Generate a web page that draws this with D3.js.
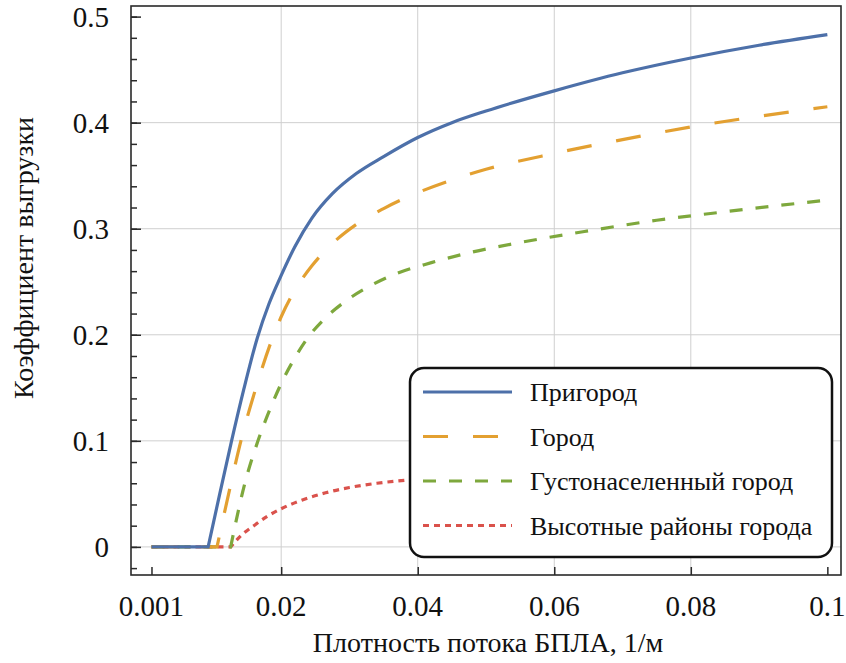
<!DOCTYPE html>
<html>
<head>
<meta charset="utf-8">
<script src="https://cdn.jsdelivr.net/npm/d3@7/dist/d3.min.js"></script>
<style>
  html, body { margin: 0; padding: 0; background: #fff; }
  svg { display: block; }
</style>
</head>
<body>
<svg id="chart" width="846" height="663"></svg>
<script>
// Unloading coefficient versus UAV flow density for four urban environments.
const seriesNames = ["Пригород", "Город", "Густонаселенный город", "Высотные районы города"];

const suburbX = [0.001, 0.0093, 0.0110, 0.0127, 0.0145, 0.0165, 0.0182, 0.0200, 0.0220, 0.0245, 0.0275, 0.0310, 0.0350, 0.0400, 0.0450, 0.0500, 0.0600, 0.0700, 0.0800, 0.0900, 0.1000];
const suburbY = [0, 0, 0.050, 0.099, 0.148, 0.197, 0.229, 0.256, 0.283, 0.310, 0.333, 0.352, 0.368, 0.386, 0.400, 0.411, 0.430, 0.447, 0.461, 0.473, 0.483];

const cityX = [0.001, 0.0106, 0.0123, 0.0141, 0.0164, 0.0185, 0.0200, 0.0220, 0.0245, 0.0275, 0.0310, 0.0350, 0.0400, 0.0450, 0.0500, 0.0600, 0.0700, 0.0800, 0.0900, 0.1000];
const cityY = [0, 0, 0.050, 0.100, 0.152, 0.193, 0.217, 0.242, 0.265, 0.286, 0.304, 0.319, 0.334, 0.346, 0.356, 0.371, 0.384, 0.396, 0.406, 0.415];

const denseX = [0.001, 0.0126, 0.0146, 0.0166, 0.0185, 0.0200, 0.0218, 0.0240, 0.0265, 0.0295, 0.0330, 0.0370, 0.0420, 0.0480, 0.0550, 0.0650, 0.0750, 0.0850, 0.1000];
const denseY = [0, 0, 0.058, 0.100, 0.132, 0.154, 0.176, 0.198, 0.216, 0.232, 0.246, 0.258, 0.268, 0.278, 0.287, 0.298, 0.308, 0.316, 0.327];

const highriseX = [0.001, 0.0126, 0.0140, 0.0160, 0.0180, 0.0200, 0.0230, 0.0265, 0.0300, 0.0340, 0.0384, 0.0450, 0.0550, 0.0700, 0.0850, 0.1000];
const highriseY = [0, 0, 0.010, 0.020, 0.029, 0.036, 0.044, 0.051, 0.056, 0.060, 0.063, 0.066, 0.069, 0.072, 0.074, 0.076];

const xTickValues = [0.001, 0.02, 0.04, 0.06, 0.08, 0.1];
const xTickLabels = ["0.001", "0.02", "0.04", "0.06", "0.08", "0.1"];
const yTickValues = [0, 0.1, 0.2, 0.3, 0.4, 0.5];
const yTickLabels = ["0", "0.1", "0.2", "0.3", "0.4", "0.5"];

const xLabel = "Плотность потока БПЛА, 1/м";
const yLabel = "Коэффициент выгрузки";

const colors = ["#4d70a9", "#e3a031", "#7ea83d", "#da524c"];
const dashes = [null, "25,25", "13,13", "6,5"];

const fontStack = '"Liberation Serif", Tinos, "Times New Roman", Times, serif';

const series = [
  { name: seriesNames[0], xs: suburbX, ys: suburbY },
  { name: seriesNames[1], xs: cityX, ys: cityY },
  { name: seriesNames[2], xs: denseX, ys: denseY },
  { name: seriesNames[3], xs: highriseX, ys: highriseY }
].map((s, i) => ({ ...s, color: colors[i], dash: dashes[i],
  points: s.xs.map((x, j) => ({ x, y: s.ys[j] })) }));

const svg = d3.select("#chart");
const plot = { left: 131, right: 841, top: 6, bottom: 575 };

const x = d3.scaleLinear().domain([-0.002, 0.102]).range([plot.left, plot.right]);
const y = d3.scaleLinear().domain([-0.0265, 0.51]).range([plot.bottom, plot.top]);

// grid
const gx = [0.02, 0.04, 0.06, 0.08];
const gy = [0, 0.1, 0.2, 0.3, 0.4];
const grid = svg.append("g").attr("stroke", "#cfcfcf").attr("stroke-width", 1);
grid.selectAll(".gv").data(gx).join("line")
  .attr("x1", d => x(d)).attr("x2", d => x(d))
  .attr("y1", plot.top).attr("y2", plot.bottom);
grid.selectAll(".gh").data(gy).join("line")
  .attr("x1", plot.left).attr("x2", plot.right)
  .attr("y1", d => y(d)).attr("y2", d => y(d));

// curves: flat zero stretch drawn straight, the rising part smoothed
const lin = d3.line().x(d => x(d.x)).y(d => y(d.y));
const mono = d3.line().x(d => x(d.x)).y(d => y(d.y)).curve(d3.curveMonotoneX);
function curvePath(pts) {
  const k = pts.findIndex((p, i) => i > 0 && p.y > 0) - 1;
  return lin(pts.slice(0, k + 1)) + mono(pts.slice(k)).replace(/^M/, "L");
}

const lines = svg.append("g");
[3, 2, 1, 0].forEach(i => {
  const s = series[i];
  lines.append("path")
    .attr("d", curvePath(s.points))
    .attr("fill", "none")
    .attr("stroke", s.color)
    .attr("stroke-width", 3.2)
    .attr("stroke-dasharray", s.dash)
    .attr("stroke-linecap", "butt");
});

// frame
svg.append("rect")
  .attr("x", plot.left).attr("y", plot.top)
  .attr("width", plot.right - plot.left).attr("height", plot.bottom - plot.top)
  .attr("fill", "none").attr("stroke", "#2a2a2a").attr("stroke-width", 1.6);

// axes with inward ticks; tick labels are written as plain text below
const xAxis = d3.axisBottom(x).tickValues(xTickValues).tickFormat("").tickSize(-8);
const gX = svg.append("g").attr("transform", `translate(0,${plot.bottom})`).call(xAxis);
gX.select(".domain").remove();
gX.selectAll(".tick line").attr("stroke", "#2a2a2a").attr("stroke-width", 1.5);

const yMinor = d3.axisLeft(y).tickValues(d3.range(-0.02, 0.51, 0.02)).tickSize(-6).tickFormat("");
const gYm = svg.append("g").attr("transform", `translate(${plot.left},0)`).call(yMinor);
gYm.select(".domain").remove();
gYm.selectAll(".tick line").attr("stroke", "#2a2a2a").attr("stroke-width", 1.5);

const yAxis = d3.axisLeft(y).tickValues(yTickValues).tickFormat("").tickSize(-10);
const gY = svg.append("g").attr("transform", `translate(${plot.left},0)`).call(yAxis);
gY.select(".domain").remove();
gY.selectAll(".tick line").attr("stroke", "#2a2a2a").attr("stroke-width", 1.5);

const labels = svg.append("g");
xTickValues.forEach((v, i) => {
  labels.append("text").attr("x", x(v)).attr("y", plot.bottom + 41)
    .attr("text-anchor", "middle").attr("font-size", 29).text(xTickLabels[i]);
});
yTickValues.forEach((v, i) => {
  labels.append("text").attr("x", plot.left - 22).attr("y", y(v) + 10)
    .attr("text-anchor", "end").attr("font-size", 29).text(yTickLabels[i]);
});

// axis titles
labels.append("text").attr("x", (plot.left + plot.right) / 2 + 2).attr("y", 652)
  .attr("text-anchor", "middle").attr("font-size", 28).text(xLabel);
labels.append("text").attr("transform", "translate(33,258) rotate(-90)")
  .attr("text-anchor", "middle").attr("font-size", 28).text(yLabel);

// legend
const lg = svg.append("g");
lg.append("rect").attr("x", 410).attr("y", 368).attr("width", 422).attr("height", 189)
  .attr("rx", 14).attr("fill", "#fff").attr("stroke", "#111").attr("stroke-width", 2.5);
series.forEach((s, i) => {
  const cy = 392 + i * 44.5;
  lg.append("line").attr("x1", 423).attr("x2", 512).attr("y1", cy).attr("y2", cy)
    .attr("stroke", s.color).attr("stroke-width", 3.2).attr("stroke-dasharray", s.dash);
  lg.append("text").attr("x", 530).attr("y", cy + 9).attr("font-size", 26).text(s.name);
});

svg.selectAll("text").each(function () {
  this.setAttribute("style", `font-family: ${fontStack} !important; fill: #111;`);
});
</script>
</body>
</html>
